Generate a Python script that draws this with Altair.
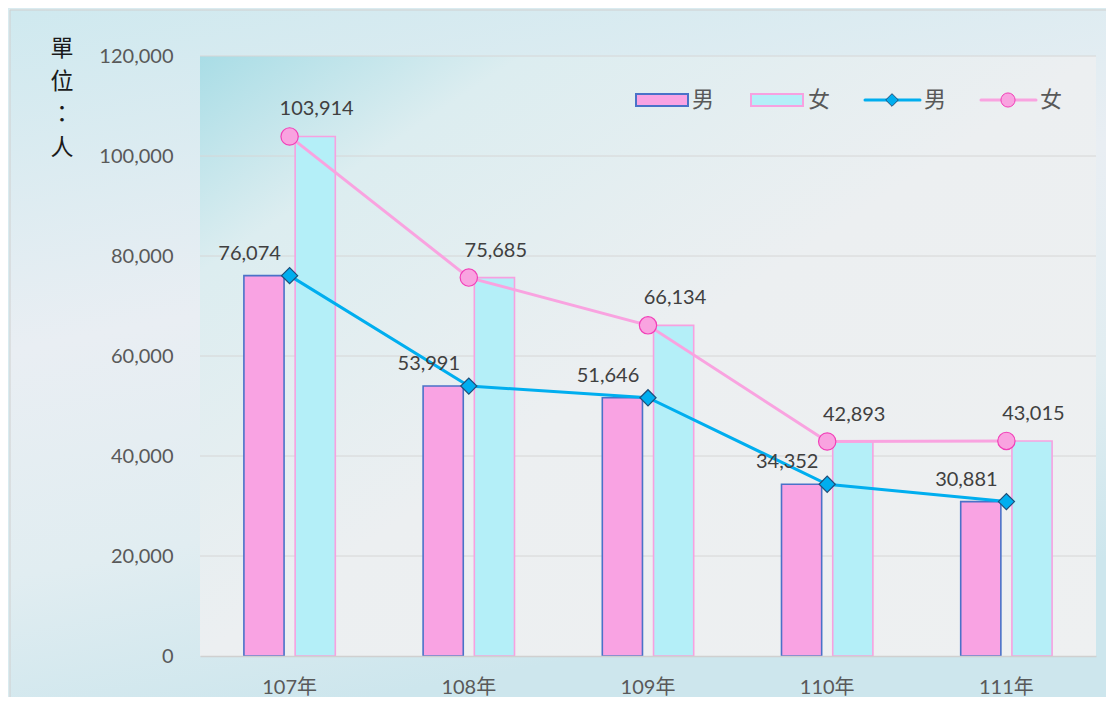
import altair as alt
import pandas as pd

years = ["107年", "108年", "109年", "110年", "111年"]
male = [76074, 53991, 51646, 34352, 30881]
female = [103914, 75685, 66134, 42893, 43015]
sexes = ["男", "女"]
y_ticks = [0, 20000, 40000, 60000, 80000, 100000, 120000]
y_title_chars = ["單", "位", "：", "人"]

rows = []
for i, yr in enumerate(years):
    rows.append({"year": yr, "sex": "男", "value": male[i]})
    rows.append({"year": yr, "sex": "女", "value": female[i]})
df = pd.DataFrame(rows)
grid_df = pd.DataFrame({"value": y_ticks[1:]})
one = pd.DataFrame({"k": [0]})

W, H = 896, 600
LAT = "Lato, 'Noto Sans CJK TC'"
CJK = "'Noto Sans CJK TC'"

C_MALE_FILL = "#f9a3e3"
C_MALE_STROKE = "#4a72c8"
C_FEM_FILL = "#b4eff8"
C_FEM_STROKE = "#f7a1e0"
C_LINE_M = "#00aeef"
C_LINE_F = "#f9a3e0"
C_PT_M_STROKE = "#1f4e79"
C_PT_F_STROKE = "#f23fb8"

xenc = alt.X("year:N", sort=years,
             scale=alt.Scale(paddingInner=0.49, paddingOuter=0.245),
             axis=alt.Axis(title=None, labelAngle=0, labelFont=LAT, labelFontSize=20,
                           labelColor="#595959", labelPadding=21, ticks=False,
                           domainColor="#d0d0d0", domainWidth=1.5, grid=False, zindex=1))
yscale = alt.Scale(domain=[0, 120000], nice=False)
yenc = alt.Y("value:Q", scale=yscale,
             axis=alt.Axis(title=None, values=y_ticks, format=",d", labelFont=LAT,
                           labelFontSize=20, labelColor="#595959", labelPadding=27,
                           ticks=False, domain=False, grid=False, zindex=1))

page = alt.Chart(one).mark_rect(
    color=alt.LinearGradient(gradient="linear", x1=0, y1=0, x2=0.3, y2=1,
                             stops=[alt.GradientStop(offset=0, color="#cfe9ef"),
                                    alt.GradientStop(offset=0.45, color="#e9eef3"),
                                    alt.GradientStop(offset=0.75, color="#e1edf1"),
                                    alt.GradientStop(offset=1, color="#cde6ed")]),
    stroke="#d0d0d0", strokeWidth=1
).encode(x=alt.value(-190), x2=alt.value(W + 12), y=alt.value(-46), y2=alt.value(H + 48))

bg = alt.Chart(one).mark_rect(
    color=alt.LinearGradient(gradient="linear", x1=0, y1=0, x2=1, y2=1,
                             stops=[alt.GradientStop(offset=0, color="#a9dde6"),
                                    alt.GradientStop(offset=0.18, color="#dcedf0"),
                                    alt.GradientStop(offset=0.5, color="#eceff1"),
                                    alt.GradientStop(offset=1, color="#eef0f1")])
).encode(x=alt.value(0), x2=alt.value(W), y=alt.value(0), y2=alt.value(H))

grid = alt.Chart(grid_df).mark_rule(color="#d6d6d6", strokeWidth=1).encode(
    y=yenc, x=alt.value(0), x2=alt.value(W))

bars = alt.Chart(df).mark_bar(strokeWidth=1.6).encode(
    x=xenc, y=yenc,
    xOffset=alt.XOffset("sex:N", sort=sexes, scale=alt.Scale(paddingInner=0.216, paddingOuter=0)),
    fill=alt.Fill("sex:N", scale=alt.Scale(domain=sexes, range=[C_MALE_FILL, C_FEM_FILL]), legend=None),
    stroke=alt.Stroke("sex:N", scale=alt.Scale(domain=sexes, range=[C_MALE_STROKE, C_FEM_STROKE]), legend=None),
)

base_m = alt.Chart(df).transform_filter(alt.datum.sex == "男")
base_f = alt.Chart(df).transform_filter(alt.datum.sex == "女")

line_f = base_f.mark_line(color=C_LINE_F, strokeWidth=3).encode(x=xenc, y=yenc)
line_m = base_m.mark_line(color=C_LINE_M, strokeWidth=3).encode(x=xenc, y=yenc)
pt_f = base_f.mark_point(shape="circle", size=300, filled=True, fill=C_LINE_F,
                         stroke=C_PT_F_STROKE, strokeWidth=1.2, opacity=1).encode(x=xenc, y=yenc)
pt_m = base_m.mark_point(shape="diamond", size=260, filled=True, fill=C_LINE_M,
                         stroke=C_PT_M_STROKE, strokeWidth=1.2, opacity=1).encode(x=xenc, y=yenc)

lab_f = base_f.mark_text(font=LAT, fontSize=20, color="#404040", dx=27, dy=-21,
                         baseline="alphabetic", align="center").encode(
    x=xenc, y=yenc, text=alt.Text("value:Q", format=",d"))
lab_m = base_m.mark_text(font=LAT, fontSize=20, color="#404040", dx=-40, dy=-16,
                         baseline="alphabetic", align="center").encode(
    x=xenc, y=yenc, text=alt.Text("value:Q", format=",d"))

ytitle = [
    alt.Chart(one).mark_text(font=CJK, fontSize=23, color="#1a1a1a",
                             align="center", baseline="middle").encode(
        x=alt.value(-138), y=alt.value(yy), text=alt.value(ch))
    for yy, ch in zip([-7, 26, 59, 92], y_title_chars)
]

# legend
LY = 44
leg = [
    alt.Chart(one).mark_rect(fill=C_MALE_FILL, stroke=C_MALE_STROKE, strokeWidth=2).encode(
        x=alt.value(436), x2=alt.value(488), y=alt.value(LY - 6), y2=alt.value(LY + 6)),
    alt.Chart(one).mark_rect(fill=C_FEM_FILL, stroke=C_FEM_STROKE, strokeWidth=2).encode(
        x=alt.value(551), x2=alt.value(603), y=alt.value(LY - 6), y2=alt.value(LY + 6)),
    alt.Chart(one).mark_rule(color=C_LINE_M, strokeWidth=3, strokeCap="round").encode(
        x=alt.value(665), x2=alt.value(720), y=alt.value(LY)),
    alt.Chart(one).mark_point(shape="diamond", size=160, filled=True, fill=C_LINE_M,
                              stroke=C_PT_M_STROKE, strokeWidth=1, opacity=1).encode(
        x=alt.value(692), y=alt.value(LY)),
    alt.Chart(one).mark_rule(color=C_LINE_F, strokeWidth=3, strokeCap="round").encode(
        x=alt.value(781), x2=alt.value(836), y=alt.value(LY)),
    alt.Chart(one).mark_point(shape="circle", size=200, filled=True, fill=C_LINE_F,
                              stroke=C_PT_F_STROKE, strokeWidth=1, opacity=1).encode(
        x=alt.value(808), y=alt.value(LY)),
]
for xx, t in [(492, "男"), (608, "女"), (724, "男"), (840, "女")]:
    leg.append(alt.Chart(one).mark_text(font=CJK, fontSize=22, color="#595959", align="left",
                                        baseline="middle").encode(
        x=alt.value(xx), y=alt.value(LY), text=alt.value(t)))

chart = alt.layer(page, bg, grid, bars, line_f, line_m, pt_f, pt_m, lab_f, lab_m, *ytitle, *leg).properties(
    width=W, height=H,
    background="#d9ebf0",
    padding={"left": 192, "top": 48, "right": 10, "bottom": 41},
    autosize=alt.AutoSizeParams(type="none"),
).configure_view(stroke=None)

chart.save("out.html", embed_options={"renderer": "svg", "actions": False})
